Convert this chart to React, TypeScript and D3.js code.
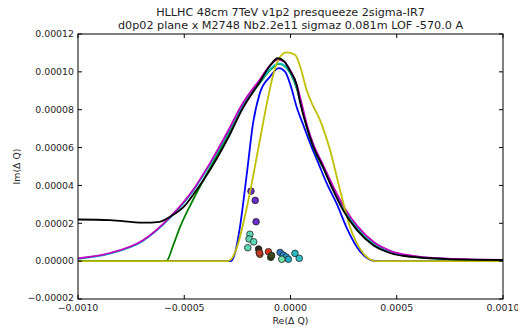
import React from "react";
import * as d3 from "d3";

const W = 518;
const H = 329;
const M = { left: 78, right: 503, top: 34, bottom: 299 };

const TITLE_LINES = [
  "HLLHC 48cm 7TeV v1p2 presqueeze 2sigma-IR7",
  "d0p02 plane x M2748 Nb2.2e11 sigmaz 0.081m LOF -570.0 A",
];
const X_LABEL = "Re(\u0394 Q)";
const Y_LABEL = "Im(\u0394 Q)";

const X_TICKS = [-0.001, -0.0005, 0, 0.0005, 0.001];
const X_TICK_LABELS = ["\u22120.0010", "\u22120.0005", "0.0000", "0.0005", "0.0010"];
const Y_TICKS = [-0.00002, 0, 0.00002, 0.00004, 0.00006, 0.00008, 0.0001, 0.00012];
const Y_TICK_LABELS = [
  "\u22120.00002", "0.00000", "0.00002", "0.00004", "0.00006", "0.00008", "0.00010", "0.00012",
];

// curves: [Re(dQ) in 1e-4, Im(dQ) in 1e-5]
const blueCurve: [number, number][] = [
  [-10, 0], [-2.8, 0], [-2.61, 0.43], [-2.38, 1.8], [-2.05, 4.66], [-1.76, 7.3], [-1.44, 8.88],
  [-0.96, 9.75], [-0.55, 10.2], [-0.25, 10.0], [0.0, 9.3], [0.3, 8.1], [0.6, 7.2], [0.9, 6.3],
  [1.3, 5.2], [1.75, 4.0], [2.19, 3.0], [2.63, 1.8], [3.13, 0.74], [3.6, 0.16], [3.9, 0.02],
  [4.2, 0], [10, 0],
];
const greenCurve: [number, number][] = [
  [-10, 0], [-5.85, 0], [-5.5, 0.9], [-5.2, 1.8], [-4.59, 3.23], [-3.79, 4.91], [-2.99, 6.55],
  [-2.24, 8.19], [-1.44, 9.42], [-0.95, 10.1], [-0.55, 10.42], [-0.25, 10.28], [0.05, 9.8],
  [0.3, 9.1], [0.5, 8.25], [0.8, 6.95], [1.1, 5.95], [1.55, 4.9], [2.05, 3.7], [2.55, 2.65],
  [3.2, 1.65], [3.95, 0.88], [4.75, 0.45], [5.8, 0.23], [7.4, 0.11], [10, 0.05],
];
const cyanCurve: [number, number][] = [
  [-10, 0.12], [-8.5, 0.4], [-6.94, 1.07], [-5.67, 2.28], [-4.59, 3.7], [-3.79, 5.1],
  [-2.99, 6.68], [-2.24, 8.25], [-1.44, 9.45], [-0.95, 10.15], [-0.55, 10.45], [-0.25, 10.3],
  [0.05, 9.85], [0.3, 9.15], [0.5, 8.3], [0.8, 7.0], [1.1, 6.0], [1.55, 4.95], [2.05, 3.75],
  [2.55, 2.7], [3.2, 1.7], [3.95, 0.92], [4.75, 0.48], [5.8, 0.25], [7.4, 0.12], [10, 0.06],
];
const magentaCurve: [number, number][] = [
  [-10, 0.15], [-8.5, 0.43], [-6.94, 1.11], [-5.67, 2.33], [-4.59, 3.76], [-3.79, 5.18],
  [-2.99, 6.77], [-2.24, 8.35], [-1.44, 9.6], [-0.95, 10.35], [-0.6, 10.65], [-0.3, 10.55],
  [0.0, 10.05], [0.3, 9.3], [0.5, 8.45], [0.8, 7.1], [1.1, 6.1], [1.55, 5.05], [2.05, 3.85],
  [2.55, 2.8], [3.2, 1.78], [3.95, 0.98], [4.75, 0.52], [5.8, 0.28], [7.4, 0.13], [10, 0.07],
];
const yellowCurve: [number, number][] = [
  [-10, 0], [-2.95, 0], [-2.75, 0.15], [-2.52, 0.74], [-2.05, 2.86], [-1.44, 6.4], [-1.1, 8.4],
  [-0.8, 9.9], [-0.49, 10.8], [-0.18, 11.03], [0.21, 10.9], [0.45, 10.3], [0.76, 9.04],
  [1.0, 8.35], [1.39, 7.45], [1.86, 5.87], [2.33, 3.76], [2.8, 1.8], [3.41, 0.43], [3.88, 0.03],
  [4.1, 0], [10, 0],
];
const blackCurve: [number, number][] = [
  [-10, 2.2], [-8.5, 2.17], [-6.94, 2.03], [-6.16, 2.08], [-5.67, 2.35], [-4.96, 2.95],
  [-4.59, 3.49], [-3.79, 4.81], [-2.99, 6.39], [-2.24, 8.09], [-1.44, 9.48], [-0.95, 10.35],
  [-0.6, 10.72], [-0.3, 10.55], [-0.02, 10.05], [0.29, 9.3], [0.45, 8.4], [0.78, 7.03],
  [1.06, 6.08], [1.53, 4.97], [2.0, 3.76], [2.47, 2.7], [3.13, 1.64], [3.88, 0.85], [4.68, 0.43],
  [5.76, 0.22], [7.36, 0.11], [10, 0.06],
];

const CURVES = [
  { color: "#0000ff", pts: blueCurve },
  { color: "#008000", pts: greenCurve },
  { color: "#00bfbf", pts: cyanCurve },
  { color: "#bf00bf", pts: magentaCurve },
  { color: "#bfbf00", pts: yellowCurve },
  { color: "#000000", pts: blackCurve },
];

// scatter points: [Re in 1e-4, Im in 1e-5]
const pointsX = [
  -1.86, -1.66, -1.62, -1.91, -1.95, -1.73, -2.01, -1.5, -1.47, -1.44, -1.46, -1.04, -0.93,
  -0.89, -0.49, -0.34, -0.21, -0.1, -0.41, 0.21, 0.41,
];
const pointsY = [
  3.7, 3.21, 2.08, 1.42, 1.17, 1.02, 0.71, 0.64, 0.46, 0.36, 0.43, 0.5, 0.2, 0.3, 0.46, 0.32,
  0.22, 0.1, 0.1, 0.41, 0.15,
];
const pointsColor = [
  "#6a2bc8", "#6a2bc8", "#6a2bc8", "#5fd6b8", "#5fd6b8", "#5fd6b8", "#5fd6b8", "#2a2a22",
  "#b0401c", "#e0552a", "#c83a1e", "#d8321c", "#2e3a18", "#3a4a1c", "#2a74c8", "#2a8cd0",
  "#1e9cc8", "#20a8c0", "#6fe0a8", "#2ab8c0", "#30c0c8",
];

export default function App() {
  const x = d3.scaleLinear().domain([-0.001, 0.001]).range([M.left, M.right]);
  const y = d3.scaleLinear().domain([-0.00002, 0.00012]).range([M.bottom, M.top]);
  const line = d3
    .line<[number, number]>()
    .x((d) => x(d[0] * 1e-4))
    .y((d) => y(d[1] * 1e-5))
    .curve(d3.curveMonotoneX);
  const font = "'DejaVu Sans', sans-serif";
  const tick = 4;
  const cx = (M.left + M.right) / 2;
  const cy = (M.top + M.bottom) / 2;
  return (
    <svg
      width={W}
      height={H}
      style={{ position: "absolute", left: 0, top: 0, background: "#fff" }}
      fontFamily={font}
    >
      <defs>
        <clipPath id="plot">
          <rect x={M.left} y={M.top} width={M.right - M.left} height={M.bottom - M.top} />
        </clipPath>
      </defs>
      <rect width={W} height={H} fill="#fff" />
      <g clipPath="url(#plot)">
        {pointsX.map((px, i) => (
          <circle
            key={"p" + i}
            cx={x(px * 1e-4)}
            cy={y(pointsY[i] * 1e-5)}
            r={3.3}
            fill={pointsColor[i]}
            stroke="#222"
            strokeWidth={0.8}
          />
        ))}
        {CURVES.map((c, i) => (
          <path key={"c" + i} d={line(c.pts) || ""} fill="none" stroke={c.color} strokeWidth={1.8} />
        ))}
      </g>
      <rect
        x={M.left}
        y={M.top}
        width={M.right - M.left}
        height={M.bottom - M.top}
        fill="none"
        stroke="#000"
        strokeWidth={1}
      />
      {X_TICKS.map((t, i) => (
        <g key={"xt" + i}>
          <line x1={x(t)} x2={x(t)} y1={M.bottom} y2={M.bottom - tick} stroke="#000" />
          <line x1={x(t)} x2={x(t)} y1={M.top} y2={M.top + tick} stroke="#000" />
          <text x={x(t)} y={310.5} textAnchor="middle" fontSize={9.4} fill="#222">
            {X_TICK_LABELS[i]}
          </text>
        </g>
      ))}
      {Y_TICKS.map((t, i) => (
        <g key={"yt" + i}>
          <line x1={M.left} x2={M.left + tick} y1={y(t)} y2={y(t)} stroke="#000" />
          <line x1={M.right} x2={M.right - tick} y1={y(t)} y2={y(t)} stroke="#000" />
          <text x={74} y={i === 0 ? y(t) - 1 : y(t)} dy="0.35em" textAnchor="end" fontSize={9.4} fill="#222">
            {Y_TICK_LABELS[i]}
          </text>
        </g>
      ))}
      <text x={cx} y={324} textAnchor="middle" fontSize={9.4} fill="#222">
        {X_LABEL}
      </text>
      <text
        transform={`translate(19.5,${cy}) rotate(-90)`}
        textAnchor="middle"
        fontSize={9.4}
        fill="#222"
      >
        {Y_LABEL}
      </text>
      {TITLE_LINES.map((t, i) => (
        <text key={"t" + i} x={cx} y={16.2 + i * 13} textAnchor="middle" fontSize={11.2} fill="#222">
          {t}
        </text>
      ))}
    </svg>
  );
}
